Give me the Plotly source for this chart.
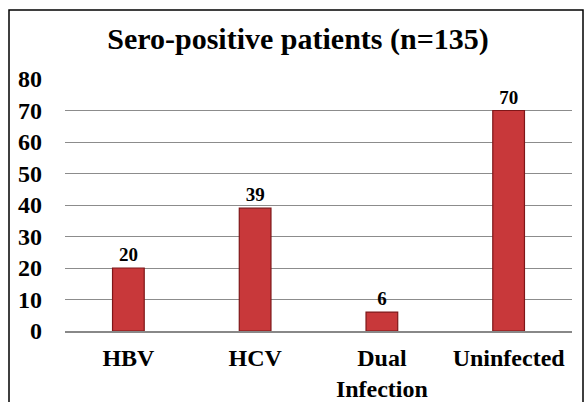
import plotly.graph_objects as go

categories = ["HBV", "HCV", "Dual<br>Infection", "Uninfected"]
values = [20, 39, 6, 70]
y_ticks = [0, 10, 20, 30, 40, 50, 60, 70, 80]

W, H = 585, 402
L, R, T, B = 65, 13, 79, 71
pw, ph = W - L - R, H - T - B

fig = go.Figure()
fig.add_trace(go.Bar(
    x=categories, y=values,
    text=[str(v) for v in values], textposition="outside",
    textfont=dict(family="Liberation Serif", size=19, color="black", weight="bold"),
    marker=dict(color="#C8383A", line=dict(color="#7E1618", width=1.2)),
    cliponaxis=False,
    width=0.25,
))

fig.update_layout(
    width=W, height=H,
    margin=dict(l=L, r=R, t=T, b=B, autoexpand=False),
    paper_bgcolor="white", plot_bgcolor="white",
    showlegend=False,
    font=dict(family="Liberation Serif", color="black", weight="bold"),
    title=dict(text="Sero-positive patients (n=135)", x=298 / W, xanchor="center",
               y=1 - 38 / H, yanchor="middle", automargin=False,
               font=dict(family="Liberation Serif", size=30, weight="bold", color="black")),
    xaxis=dict(showgrid=False, showline=True, linecolor="#888888", linewidth=1.5,
               tickfont=dict(family="Liberation Serif", size=24, weight="bold"),
               ticklabelstandoff=4, fixedrange=True, automargin=False),
    yaxis=dict(range=[0, 80], tickvals=y_ticks, showgrid=True, gridcolor="#8c8c8c",
               gridwidth=1.3, zeroline=False, showline=False, fixedrange=True,
               automargin=False,
               tickfont=dict(family="Liberation Serif", size=24, weight="bold"),
               ticklabelstandoff=22),
    shapes=[dict(type="rect", xref="paper", yref="paper",
                 x0=(9 - L) / pw, x1=(583 - L) / pw,
                 y0=-(B + 10) / ph, y1=1 + (T - 10) / ph,
                 line=dict(color="black", width=1.5), fillcolor="rgba(0,0,0,0)")],
)

fig.write_html("out.html",
               config={"responsive": False, "displayModeBar": False},
               post_script="document.body.style.margin='0';document.body.style.overflow='hidden';")
